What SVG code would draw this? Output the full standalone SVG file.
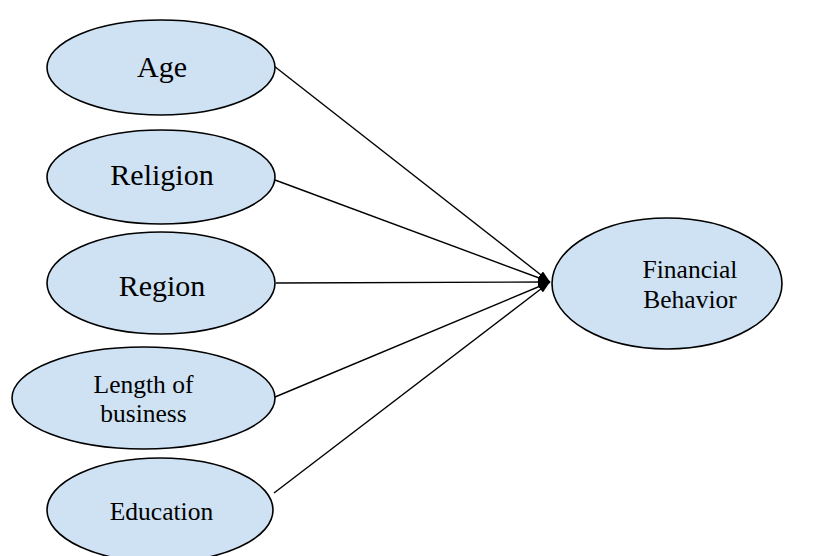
<svg xmlns="http://www.w3.org/2000/svg" width="818" height="556" viewBox="0 0 818 556">
  <defs>
    <marker id="arrow" viewBox="0 0 12 8" refX="12" refY="4" markerWidth="12" markerHeight="8" markerUnits="userSpaceOnUse" orient="auto">
      <path d="M0,0 L12,4 L0,8 Z" fill="#000"/>
    </marker>
    <style>
      .node ellipse { fill: #cfe2f3; stroke: #000; stroke-width: 1.6; }
      .node text { font-family: "Liberation Serif", "Times New Roman", serif; fill: #000; text-anchor: middle; }
      .big { font-size: 30px; }
      .small { font-size: 25.5px; }
      .edges line { stroke: #000; stroke-width: 1.4; marker-end: url(#arrow); }
    </style>
  </defs>
  <rect width="818" height="556" fill="#fff"/>

  <g class="edges">
    <line x1="274" y1="66" x2="550" y2="282"/>
    <line x1="275" y1="180" x2="550" y2="282"/>
    <line x1="276" y1="283" x2="550" y2="282"/>
    <line x1="275" y1="397" x2="550" y2="282"/>
    <line x1="274" y1="493" x2="550" y2="282"/>
  </g>

  <g id="age" class="node">
    <ellipse cx="161" cy="67.5" rx="114" ry="47.5"/>
    <text class="big" x="162" y="77">Age</text>
  </g>

  <g id="religion" class="node">
    <ellipse cx="161" cy="177" rx="114" ry="47"/>
    <text class="big" x="162" y="185">Religion</text>
  </g>

  <g id="region" class="node">
    <ellipse cx="161" cy="283" rx="114" ry="51"/>
    <text class="big" x="162" y="296">Region</text>
  </g>

  <g id="length-of-business" class="node">
    <ellipse cx="143.5" cy="398" rx="131.5" ry="51"/>
    <text class="small" x="143.5" y="393">Length of</text>
    <text class="small" x="143.5" y="422">business</text>
  </g>

  <g id="education" class="node">
    <ellipse cx="160" cy="510" rx="113" ry="52"/>
    <text class="small" x="161.5" y="520">Education</text>
  </g>

  <g id="financial-behavior" class="node">
    <ellipse cx="667" cy="283.5" rx="115" ry="65.5"/>
    <text class="small" x="690" y="278">Financial</text>
    <text class="small" x="690" y="308">Behavior</text>
  </g>
</svg>
